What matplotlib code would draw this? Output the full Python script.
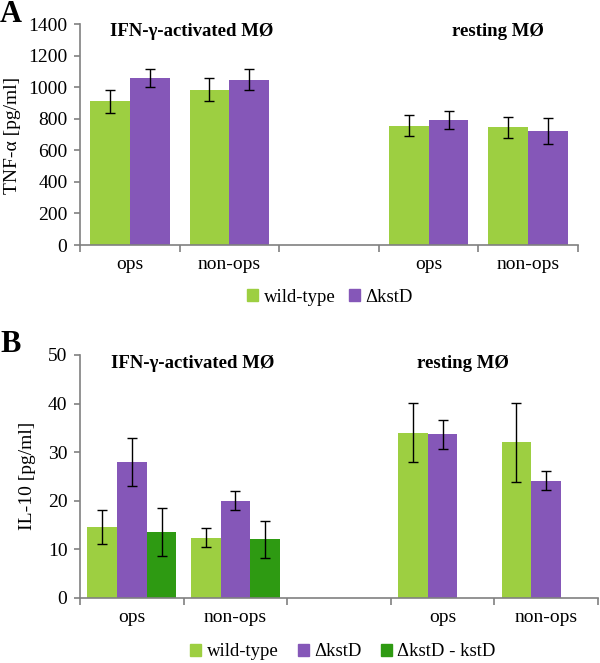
import matplotlib
matplotlib.use("Agg")
import matplotlib.pyplot as plt
from matplotlib.patches import Patch
import numpy as np

plt.rcParams['font.family'] = ['Liberation Serif', 'DejaVu Serif']

# Data
cat_labels = ["ops", "non-ops", "", "ops", "non-ops"]
groups = ["IFN-γ-activated MØ", "resting MØ"]

# Panel A: TNF-alpha
tnf_wt = [910, 985, np.nan, 755, 745]
tnf_wt_err = [75, 75, np.nan, 67, 65]
tnf_ko = [1060, 1048, np.nan, 792, 722]
tnf_ko_err = [58, 68, np.nan, 56, 82]

# Panel B: IL-10
il_wt = [14.5, 12.4, np.nan, 34.0, 32.0]
il_wt_err = [3.5, 2.0, np.nan, 6.1, 8.1]
il_ko = [28.0, 20.0, np.nan, 33.7, 24.1]
il_ko_err = [5.0, 2.0, np.nan, 3.0, 2.0]
il_comp = [13.5, 12.0, np.nan, np.nan, np.nan]
il_comp_err = [4.9, 3.8, np.nan, np.nan, np.nan]

c_wt = "#9dcf41"
c_ko = "#8557b8"
c_comp = "#2e9a12"
axis_col = "#808080"
FS = 14
LFS = 13.5

W, H = 600, 663
fig = plt.figure(figsize=(W / 100, H / 100), dpi=100)


def px_axes(l, t, r, b):
    return fig.add_axes([l / W, 1 - b / H, (r - l) / W, (b - t) / H])


def style(ax, ylim, yticks):
    x = np.arange(len(cat_labels))
    ax.set_xlim(-0.5, len(cat_labels) - 0.5)
    ax.set_ylim(*ylim)
    ax.set_yticks(yticks)
    for s in ["top", "right"]:
        ax.spines[s].set_visible(False)
    for s in ["left", "bottom"]:
        ax.spines[s].set_color(axis_col)
        ax.spines[s].set_linewidth(1.2)
    ax.set_xticks([i for i in x if cat_labels[i]])
    ax.set_xticklabels([c for c in cat_labels if c])
    ax.set_xticks(np.arange(-0.5, len(cat_labels)), minor=True)
    ax.tick_params(axis='x', which='major', length=0, pad=8, labelsize=FS)
    ax.tick_params(axis='x', which='minor', length=5, color=axis_col, width=1.2, direction='out')
    ax.tick_params(axis='y', length=4, color=axis_col, width=1.2, pad=5, labelsize=FS)


ekw = dict(ecolor="black", elinewidth=1.0, capsize=3.5, capthick=1.0)

# Panel A
axA = px_axes(80, 24, 578, 245)
x = np.arange(len(cat_labels))
wA = 0.40
axA.bar(x - wA / 2, tnf_wt, wA, color=c_wt, yerr=tnf_wt_err, error_kw=ekw)
axA.bar(x + wA / 2, tnf_ko, wA, color=c_ko, yerr=tnf_ko_err, error_kw=ekw)
style(axA, (0, 1400), np.arange(0, 1401, 200))

# Panel B
axB = px_axes(80, 355, 598, 597.7)
wB = 0.287
axB.bar(x - wB, il_wt, wB, color=c_wt, yerr=il_wt_err, error_kw=ekw)
axB.bar(x, il_ko, wB, color=c_ko, yerr=il_ko_err, error_kw=ekw)
axB.bar(x + wB, il_comp, wB, color=c_comp, yerr=il_comp_err, error_kw=ekw)
style(axB, (0, 50), np.arange(0, 51, 10))


def ftext(px, py, s, **kw):
    fig.text(px / W, 1 - py / H, s, **kw)


# Group titles
TFS = 13.5
ftext(192, 32, groups[0], ha='center', va='center', fontsize=TFS, fontweight='bold')
ftext(498, 32, groups[1], ha='center', va='center', fontsize=TFS, fontweight='bold')
ftext(193, 363, groups[0], ha='center', va='center', fontsize=TFS, fontweight='bold')
ftext(463, 363, groups[1], ha='center', va='center', fontsize=TFS, fontweight='bold')

# Panel letters
ftext(0, 15, "A", ha='left', va='center', fontsize=22, fontweight='bold')
ftext(0, 345, "B", ha='left', va='center', fontsize=22, fontweight='bold')

# Y labels
ftext(13, 135, "TNF-α [pg/ml]", ha='center', va='center', rotation=90, fontsize=FS)
ftext(27, 476, "IL-10 [pg/ml]", ha='center', va='center', rotation=90, fontsize=FS)

# Legends
legA = fig.legend(handles=[Patch(color=c_wt, label="wild-type"), Patch(color=c_ko, label="ΔkstD")],
                  loc='center', bbox_to_anchor=(330 / W, 1 - 297 / H), ncol=2, frameon=False,
                  fontsize=LFS, handlelength=0.6, handleheight=0.6, handletextpad=0.3,
                  columnspacing=0.7, borderpad=0)
legB = fig.legend(handles=[Patch(color=c_wt, label="wild-type"), Patch(color=c_ko, label="ΔkstD"),
                           Patch(color=c_comp, label="ΔkstD - kstD")],
                  loc='center', bbox_to_anchor=(343 / W, 1 - 652 / H), ncol=3, frameon=False,
                  fontsize=LFS, handlelength=0.6, handleheight=0.6, handletextpad=0.3,
                  columnspacing=1.0, borderpad=0)

fig.savefig("out.png", dpi=100)
